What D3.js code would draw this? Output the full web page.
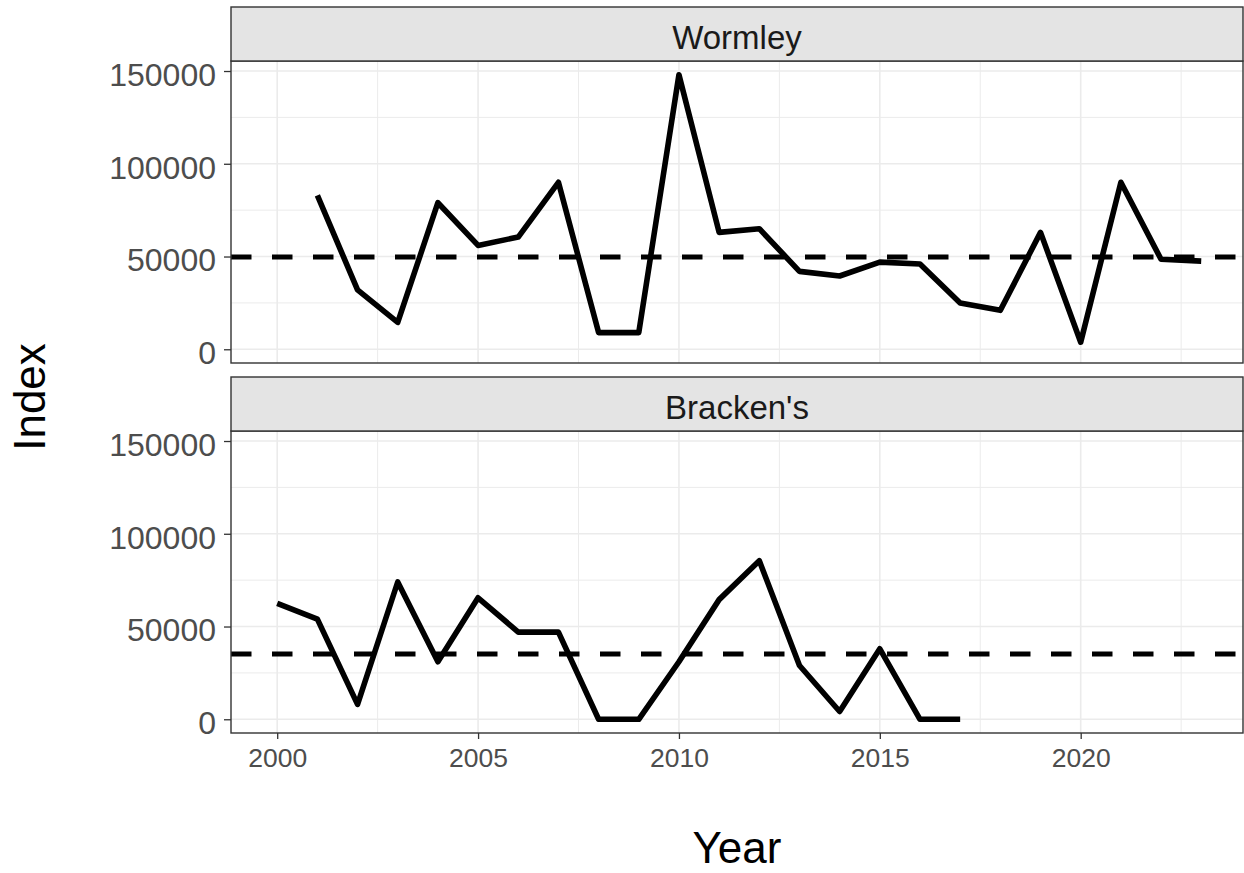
<!DOCTYPE html>
<html>
<head>
<meta charset="utf-8">
<script src="https://cdn.jsdelivr.net/npm/d3@7"></script>
<style>
  body { margin: 0; background: #fff; }
  svg { display: block; font-family: "Liberation Sans", Arial, sans-serif; }
</style>
</head>
<body>
<svg id="chart" width="1244" height="873"></svg>
<script>
// values
var sites = ["Wormley", "Bracken's"];

var wormleyYears = [2001, 2002, 2003, 2004, 2005, 2006, 2007, 2008, 2009, 2010, 2011, 2012,
  2013, 2014, 2015, 2016, 2017, 2018, 2019, 2020, 2021, 2022, 2023];
var wormleyIndex = [83000, 32000, 14500, 79000, 56000, 60500, 90000, 9000, 9000, 148000, 63000, 65000,
  42000, 39500, 47000, 46000, 25000, 21000, 63000, 3800, 90000, 48500, 47500];

var brackensYears = [2000, 2001, 2002, 2003, 2004, 2005, 2006, 2007, 2008, 2009, 2010, 2011,
  2012, 2013, 2014, 2015, 2016, 2017];
var brackensIndex = [62500, 54000, 8000, 74000, 31000, 65500, 47000, 47000, 0, 0, 31000, 64500,
  85500, 29000, 4200, 38000, 0, 0];

var siteMean = [49800, 35200];

var yTicks = [0, 50000, 100000, 150000];
var yMinor = [25000, 75000, 125000];
var xTicks = [2000, 2005, 2010, 2015, 2020];
var xMinor = [2002.5, 2007.5, 2012.5, 2017.5, 2022.5];

var series = [
  { name: sites[0], years: wormleyYears, values: wormleyIndex, mean: siteMean[0] },
  { name: sites[1], years: brackensYears, values: brackensIndex, mean: siteMean[1] }
];

var svg = d3.select("#chart");

var left = 231, right = 1243;
var stripH = 54, panelH = 302;
var panelTops = [7, 377];

var x = d3.scaleLinear().domain([1998.85, 2024.04]).range([left, right]);

var vMax = d3.max(wormleyIndex.concat(brackensIndex));
var ypad = vMax * 0.05;

series.forEach(function(s, i) {
  var top = panelTops[i];
  var y0 = top + stripH;
  var y = d3.scaleLinear().domain([-ypad, vMax + ypad]).range([y0 + panelH, y0]);

  var g = svg.append("g");

  // grid
  g.selectAll(".minorY").data(yMinor).enter().append("line")
    .attr("x1", left).attr("x2", right)
    .attr("y1", function(d) { return y(d); }).attr("y2", function(d) { return y(d); })
    .style("stroke", "#ebebeb").style("stroke-width", 1);
  g.selectAll(".minorX").data(xMinor).enter().append("line")
    .attr("x1", function(d) { return x(d); }).attr("x2", function(d) { return x(d); })
    .attr("y1", y0).attr("y2", y0 + panelH)
    .style("stroke", "#ebebeb").style("stroke-width", 1);
  g.selectAll(".majorY").data(yTicks).enter().append("line")
    .attr("x1", left).attr("x2", right)
    .attr("y1", function(d) { return y(d); }).attr("y2", function(d) { return y(d); })
    .style("stroke", "#ebebeb").style("stroke-width", 1.6);
  g.selectAll(".majorX").data(xTicks).enter().append("line")
    .attr("x1", function(d) { return x(d); }).attr("x2", function(d) { return x(d); })
    .attr("y1", y0).attr("y2", y0 + panelH)
    .style("stroke", "#ebebeb").style("stroke-width", 1.6);

  // mean line
  g.append("line")
    .attr("x1", left).attr("x2", right)
    .attr("y1", y(s.mean)).attr("y2", y(s.mean))
    .style("stroke", "#000").style("stroke-width", 5)
    .style("stroke-dasharray", "20.5,20.5");

  // series
  var line = d3.line()
    .x(function(d) { return x(d[0]); })
    .y(function(d) { return y(d[1]); });
  g.append("path")
    .datum(d3.zip(s.years, s.values))
    .attr("d", line)
    .style("fill", "none").style("stroke", "#000")
    .style("stroke-width", 5.6).style("stroke-linejoin", "round");

  // panel border
  g.append("rect")
    .attr("x", left).attr("y", y0).attr("width", right - left).attr("height", panelH)
    .style("fill", "none").style("stroke", "#333").style("stroke-width", 1.4);

  // strip
  g.append("rect")
    .attr("x", left).attr("y", top).attr("width", right - left).attr("height", stripH)
    .style("fill", "#e4e4e4").style("stroke", "#333").style("stroke-width", 1.4);
  g.append("text")
    .attr("x", (left + right) / 2).attr("y", top + 42)
    .attr("text-anchor", "middle")
    .style("font-size", "33px").style("fill", "#1a1a1a")
    .text(s.name);

  // y axis
  var ya = g.append("g").attr("transform", "translate(" + left + ",0)")
    .call(d3.axisLeft(y).tickValues(yTicks).tickSize(7).tickPadding(8).tickFormat(d3.format("d")));
  ya.select(".domain").remove();
  ya.selectAll("line").style("stroke", "#333").style("stroke-width", 1.3);
  ya.selectAll("text").attr("dy", "0.45em")
    .style("font-size", "32px").style("fill", "#4d4d4d")
    .style("font-family", "'Liberation Sans', Arial, sans-serif");

  if (i === series.length - 1) {
    var xa = g.append("g").attr("transform", "translate(0," + (y0 + panelH) + ")")
      .call(d3.axisBottom(x).tickValues(xTicks).tickSize(6).tickPadding(9).tickFormat(d3.format("d")));
    xa.select(".domain").remove();
    xa.selectAll("line").style("stroke", "#333").style("stroke-width", 1.3);
    xa.selectAll("text")
      .style("font-size", "26.5px").style("fill", "#4d4d4d")
      .style("font-family", "'Liberation Sans', Arial, sans-serif");
  }
});

// axis titles
svg.append("text")
  .attr("x", (left + right) / 2).attr("y", 863)
  .attr("text-anchor", "middle")
  .style("font-size", "44px").style("fill", "#000")
  .text("Year");

svg.append("text")
  .attr("transform", "translate(45,397) rotate(-90)")
  .attr("text-anchor", "middle")
  .style("font-size", "44px").style("fill", "#000")
  .text("Index");
</script>
</body>
</html>
